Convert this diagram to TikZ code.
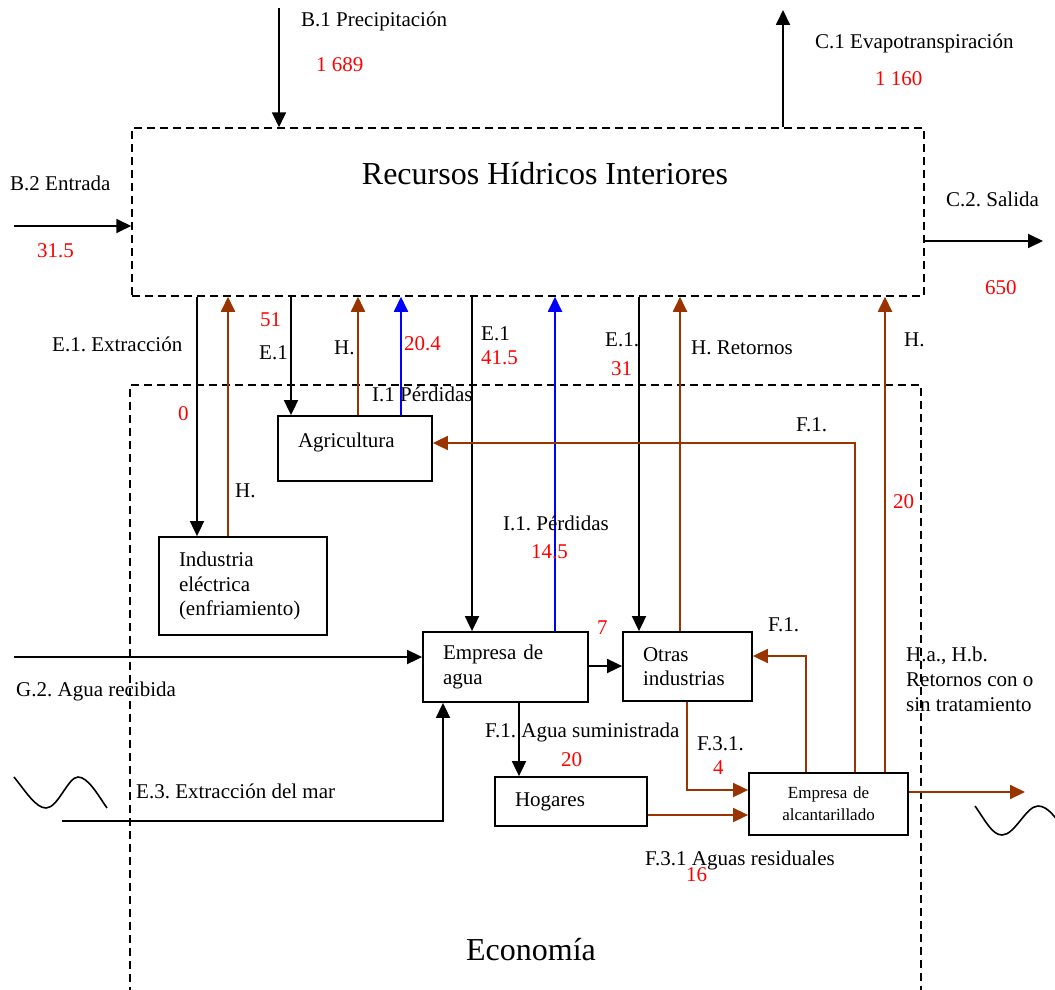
\documentclass[tikz,border=0pt]{standalone}
\usepackage{fontspec}
\setmainfont{Liberation Serif}
\usetikzlibrary{arrows.meta,calc}
\definecolor{brn}{RGB}{153,51,0}
\definecolor{blu}{RGB}{0,0,255}
\definecolor{rd}{RGB}{255,0,0}
\frenchspacing
\begin{document}
\begin{tikzpicture}[x=1pt,y=-1pt,
  lbl/.style={inner sep=0pt, anchor=base west, font=\fontsize{21}{25}\selectfont},
  num/.style={lbl, text=rd},
  box/.style={draw, line width=1.8pt, inner ysep=0pt, inner xsep=20pt, align=left, font=\fontsize{21}{24.5}\selectfont},
  region/.style={draw, line width=1.5pt, dash pattern=on 8pt off 5pt, inner sep=0pt},
  conn/.style={line width=1.8pt, -{Triangle[length=15pt,width=14pt]}},
  connb/.style={conn, color=brn},
  connl/.style={conn, color=blu},
  wave/.style={line width=1.6pt}
]
\useasboundingbox (0,0) rectangle (1055,990);

% regions
\node[region, minimum width=792pt, minimum height=168pt] (rec) at (528,212) {};
\node[inner sep=0pt, anchor=base, font=\fontsize{32}{38}\selectfont] (rectitle) at (545,184) {Recursos Hídricos Interiores};
\coordinate (ecoBL) at (130,995);
\coordinate (ecoTL) at (130,385);
\coordinate (ecoTR) at (921,385);
\coordinate (ecoBR) at (921,995);
\draw[region] (ecoBL) -- (ecoTL) -- (ecoTR) -- (ecoBR);
\node[inner sep=0pt, anchor=base, font=\fontsize{32}{38}\selectfont] (ecotitle) at (531,960) {Economía};

% boxes
\node[box, text width=128pt, minimum height=98pt] (ind) at (243,586) {Industria\\eléctrica\\(enfriamiento)};
\node[box, text width=114pt, text height=31pt, text depth=34pt] (agr) at (355,448.5) {Agricultura};
\node[box, text width=125pt, minimum height=70pt] (emp) at (505.5,667) {Empresa de\\agua};
\node[box, text width=89pt, minimum height=69pt] (otr) at (687.5,666.5) {Otras\\industrias};
\node[box, text width=112pt, minimum height=49pt] (hog) at (571,801.5) {Hogares};
\node[box, inner xsep=0pt, text width=159pt, minimum height=62pt, align=center, font=\fontsize{17}{22}\selectfont] (alc) at (828.5,804) {Empresa de\\alcantarillado};

% helper coordinates
\coordinate (x197) at (197,0);
\coordinate (x228) at (228,0);
\coordinate (x291) at (291,0);
\coordinate (x358) at (358,0);
\coordinate (x401) at (401,0);
\coordinate (x472) at (472,0);
\coordinate (x555) at (555,0);
\coordinate (x639) at (639,0);
\coordinate (x680) at (680,0);
\coordinate (x885) at (885,0);
\coordinate (x519) at (519,0);
\coordinate (x443) at (443,0);
\coordinate (y666) at (0,666);
\coordinate (y815) at (0,815);
\coordinate (b1start) at (279,8);
\coordinate (c1end) at (783,10);
\coordinate (b2start) at (14,226);
\coordinate (c2end) at (1043,241);
\coordinate (g2start) at (14,657);
\coordinate (e3start) at (62,821);
\coordinate (outend) at (1025,792);
\coordinate (f1corner) at (855,443);
\coordinate (f1b) at (806,656);
\coordinate (f31) at (687,790);

% outer flows
\draw[conn] (b1start) -- (rec.north -| b1start);
\draw[conn] (rec.north -| c1end) -- (c1end);
\draw[conn] (b2start) -- (rec.west |- b2start);
\draw[conn] (rec.east |- c2end) -- (c2end);

% extraction / returns
\draw[conn] (rec.south -| x197) -- (ind.north -| x197);
\draw[connb] (ind.north -| x228) -- (rec.south -| x228);
\draw[conn] (rec.south -| x291) -- (agr.north -| x291);
\draw[connb] (agr.north -| x358) -- (rec.south -| x358);
\draw[connl] (agr.north -| x401) -- (rec.south -| x401);
\draw[conn] (rec.south -| x472) -- (emp.north -| x472);
\draw[connl] (emp.north -| x555) -- (rec.south -| x555);
\draw[conn] (rec.south -| x639) -- (otr.north -| x639);
\draw[connb] (otr.north -| x680) -- (rec.south -| x680);
\draw[connb] (alc.north -| x885) -- (rec.south -| x885);

% economy flows
\draw[connb] (alc.north -| f1corner) -- (f1corner) -- (agr.east |- f1corner);
\draw[connb] (alc.north -| f1b) -- (f1b) -- (otr.east |- f1b);
\draw[conn] (emp.east |- y666) -- (otr.west |- y666);
\draw[conn] (g2start) -- (emp.west |- g2start);
\draw[conn] (e3start) -- (e3start -| x443) -- (emp.south -| x443);
\draw[conn] (emp.south -| x519) -- (hog.north -| x519);
\draw[connb] (otr.south -| f31) -- (f31) -- (alc.west |- f31);
\draw[connb] (hog.east |- y815) -- (alc.west |- y815);
\draw[connb] (alc.east |- outend) -- (outend);

% waves
\draw[wave] (14,777) .. controls (26,792) and (36,808) .. (46,808) .. controls (58,808) and (68,777) .. (78,777) .. controls (88,777) and (98,795) .. (107,808);
\draw[wave] (975,806) .. controls (985,820) and (992,835) .. (1002,835) .. controls (1015,835) and (1026,806) .. (1038,806) .. controls (1048,806) and (1056,818) .. (1064,830);

% labels
\node[lbl] (tb1) at (301,27) {B.1 Precipitación};
\node[num] (nb1) at (316,72) {1 689};
\node[lbl] (tc1) at (815,49) {C.1 Evapotranspiración};
\node[num] (nc1) at (875,85) {1 160};
\node[lbl] (tb2) at (10,190) {B.2 Entrada};
\node[num] (nb2) at (37,257) {31.5};
\node[lbl] (tc2) at (946,206) {C.2. Salida};
\node[num] (nc2) at (985,294) {650};
\node[lbl] (te1a) at (52,351) {E.1. Extracción};
\node[num] (n51) at (260,326) {51};
\node[num] (n0) at (178,420) {0};
\node[lbl] (te1b) at (259,359) {E.1};
\node[lbl] (tha) at (334,354) {H.};
\node[num] (n204) at (404,350) {20.4};
\node[lbl] (ti1a) at (372,401) {I.1 Pérdidas};
\node[lbl] (thb) at (235,497) {H.};
\node[lbl] (te1c) at (481,340) {E.1};
\node[num] (n415) at (481,364) {41.5};
\node[lbl] (te1d) at (605,346) {E.1.};
\node[num] (n31) at (611,375) {31};
\node[lbl] (thr) at (691,354) {H. Retornos};
\node[lbl] (tf1a) at (796,431) {F.1.};
\node[lbl] (thc) at (904,346) {H.};
\node[num] (n20a) at (893,508) {20};
\node[lbl] (ti1b) at (503,530) {I.1. Pérdidas};
\node[num] (n145) at (531,558) {14.5};
\node[num] (n7) at (597,634) {7};
\node[lbl] (tf1b) at (768,631) {F.1.};
\node[lbl, align=left, anchor=north west, font=\fontsize{21}{25}\selectfont] (thab) at (906,647) {H.a., H.b.\\Retornos con o\\sin tratamiento};
\node[lbl] (tg2) at (16,696) {G.2. Agua recibida};
\node[lbl] (te3) at (136,798) {E.3. Extracción del mar};
\node[lbl] (tf1c) at (485,737) {F.1. Agua suministrada};
\node[num] (n20b) at (561,766) {20};
\node[lbl] (tf31a) at (697,750) {F.3.1.};
\node[num] (n4) at (713,774) {4};
\node[lbl] (tf31b) at (645,865) {F.3.1 Aguas residuales};
\node[num] (n16) at (686,881) {16};
\end{tikzpicture}
\end{document}
